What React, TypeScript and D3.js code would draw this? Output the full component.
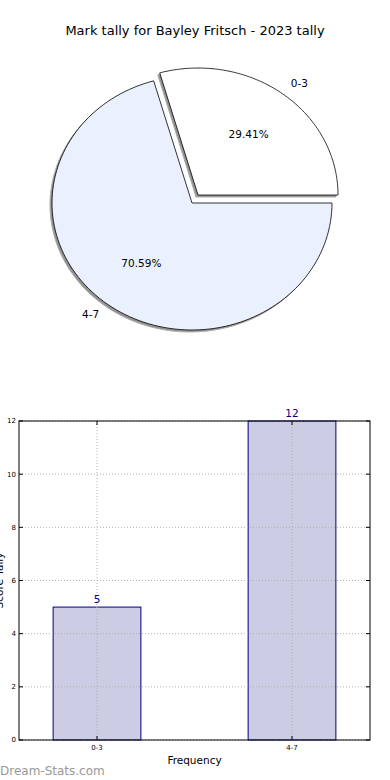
import React from 'react';
import * as d3 from 'd3';

const categories = ['0-3', '4-7'];
const tallies = [5, 12];
const pctLabels = ['29.41%', '70.59%'];
const sliceColors = ['#ffffff', '#eaf0fd'];
const yTicks = [0, 2, 4, 6, 8, 10, 12];

const W = 390;
const H = 780;
const font = '"DejaVu Sans", sans-serif';

const Pie: React.FC = () => {
  const cx = 192;
  const cy = 203;
  const rx = 140;
  const ry = 127;
  const total = d3.sum(tallies);
  const explode = [10, 0];

  // matplotlib style: start at 3 o'clock, go counter-clockwise
  const angles = d3.pairs([0, ...d3.cumsum(tallies).map(v => (v / total) * 360)]);

  const slicePath = (a0: number, a1: number, ox: number, oy: number) => {
    const pts: [number, number][] = [[ox, oy]];
    const n = 120;
    for (let i = 0; i <= n; i++) {
      const a = ((a0 + ((a1 - a0) * i) / n) * Math.PI) / 180;
      pts.push([ox + rx * Math.cos(a), oy - ry * Math.sin(a)]);
    }
    return d3.line()(pts) + 'Z';
  };

  const slices = angles.map(([a0, a1], i) => {
    const mid = (((a0 + a1) / 2) * Math.PI) / 180;
    const ox = cx + explode[i] * Math.cos(mid);
    const oy = cy - explode[i] * Math.sin(mid);
    return { a0, a1, mid, ox, oy, i };
  });

  return (
    <g>
      {slices.map(s => (
        <path key={'sh' + s.i} d={slicePath(s.a0, s.a1, s.ox - 2, s.oy + 2)} fill="#777" stroke="#999" strokeWidth={1} opacity={0.8} />
      ))}
      {slices.map(s => (
        <path key={'sl' + s.i} d={slicePath(s.a0, s.a1, s.ox, s.oy)} fill={sliceColors[s.i]} stroke="#000" strokeWidth={0.8} />
      ))}
      {slices.map(s => {
        const lx = s.ox + 1.1 * rx * Math.cos(s.mid);
        const ly = s.oy - 1.1 * ry * Math.sin(s.mid);
        const px = s.ox + 0.6 * rx * Math.cos(s.mid);
        const py = s.oy - 0.6 * ry * Math.sin(s.mid);
        return (
          <g key={'lb' + s.i} fontFamily={font} fontSize={10.5} fill="#000">
            <text x={lx} y={ly} dy="0.35em" textAnchor={Math.cos(s.mid) > 0 ? 'start' : 'end'}>{categories[s.i]}</text>
            <text x={px} y={py} dy="0.35em" textAnchor="middle">{pctLabels[s.i]}</text>
          </g>
        );
      })}
    </g>
  );
};

const Bars: React.FC = () => {
  const left = 19;
  const right = 370;
  const top = 421;
  const bottom = 740;
  const x = d3.scaleLinear().domain([-0.4, 1.4]).range([left, right]);
  const y = d3.scaleLinear().domain([0, 12]).range([bottom, top]);
  const bw = x(0.45) - x(0);
  const grid = '#b0b0b0';

  return (
    <g fontFamily={font}>
      {tallies.map((v, i) => (
        <rect key={i} x={x(i) - bw / 2} y={y(v)} width={bw} height={y(0) - y(v)} fill="#ccccE5" stroke="#000080" strokeWidth={1} />
      ))}
      {yTicks.map(t => (
        <line key={'gy' + t} x1={left} x2={right} y1={y(t)} y2={y(t)} stroke={grid} strokeWidth={1} strokeDasharray="1,2" />
      ))}
      {categories.map((c, i) => (
        <line key={'gx' + c} x1={x(i)} x2={x(i)} y1={top} y2={bottom} stroke={grid} strokeWidth={1} strokeDasharray="1,2" />
      ))}
      <rect x={left} y={top} width={right - left} height={bottom - top} fill="none" stroke="#000" strokeWidth={1} />
      {yTicks.map(t => (
        <g key={'ty' + t}>
          <line x1={left} x2={left + 4} y1={y(t)} y2={y(t)} stroke="#000" />
          <line x1={right - 4} x2={right} y1={y(t)} y2={y(t)} stroke="#000" />
          <text x={left - 3} y={y(t)} dy="0.35em" textAnchor="end" fontSize={7} fill="#000">{t}</text>
        </g>
      ))}
      {categories.map((c, i) => (
        <g key={'tx' + c}>
          <line x1={x(i)} x2={x(i)} y1={bottom} y2={bottom - 4} stroke="#000" />
          <line x1={x(i)} x2={x(i)} y1={top} y2={top + 4} stroke="#000" />
          <text x={x(i)} y={bottom + 10} textAnchor="middle" fontSize={7} fill="#000">{c}</text>
        </g>
      ))}
      {tallies.map((v, i) => (
        <text key={'v' + i} x={x(i)} y={y(v) - 4} textAnchor="middle" fontSize={10.5} fill="#00008b">{v}</text>
      ))}
      <text x={(left + right) / 2} y={764} textAnchor="middle" fontSize={10.5} fill="#000">Frequency</text>
      {/* the reference cuts this label off at the left edge, only a sliver shows */}
      <text transform={`translate(3,${(top + bottom) / 2}) rotate(-90)`} textAnchor="middle" fontSize={10.5} fill="#000">Score Tally</text>
    </g>
  );
};

export default function App() {
  return (
    <svg width={W} height={H} style={{ position: 'absolute', left: 0, top: 0, background: '#fff' }}>
      <rect width={W} height={H} fill="#fff" />
      <text x={195} y={35} textAnchor="middle" fontFamily={font} fontSize={13} fill="#000">
        Mark tally for Bayley Fritsch - 2023 tally
      </text>
      <Pie />
      <Bars />
      <text x={0} y={775} fontFamily={font} fontSize={12} fill="#999999">Dream-Stats.com</text>
    </svg>
  );
}
